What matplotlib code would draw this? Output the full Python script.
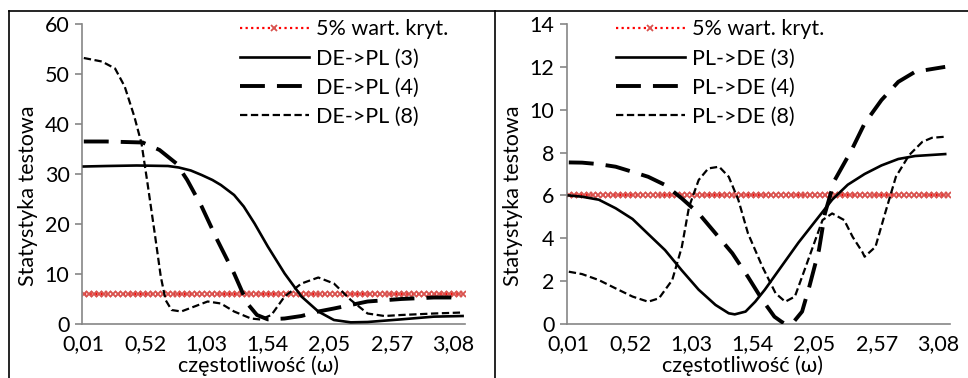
import numpy as np
import matplotlib
matplotlib.use("Agg")
import matplotlib.pyplot as plt
from matplotlib.lines import Line2D

plt.rcParams['font.family'] = ['Lato', 'DejaVu Sans']

# wartosc krytyczna 5%
crit_value = 6.0
crit_omega = np.arange(0.01, 3.17, 0.041)

# DE->PL
de3_w = [0.01, 0.2, 0.45, 0.71, 0.80, 0.90, 0.99, 1.08, 1.15, 1.26, 1.34, 1.43, 1.54, 1.68, 1.82, 1.96, 2.09, 2.23, 2.37, 2.65, 2.92, 3.16]
de3_v = [31.5, 31.6, 31.7, 31.6, 31.3, 30.7, 29.8, 28.8, 27.8, 25.8, 23.5, 20.1, 15.5, 10.1, 5.5, 2.5, 0.8, 0.33, 0.4, 0.93, 1.47, 1.6]

de4_w = [0.01, 0.2, 0.5, 0.64, 0.78, 0.87, 0.99, 1.12, 1.26, 1.37, 1.45, 1.54, 1.68, 1.82, 1.96, 2.09, 2.37, 2.65, 2.92, 3.16]
de4_v = [36.5, 36.5, 36.3, 34.8, 32.1, 28.8, 23.5, 16.8, 10.1, 4.1, 1.8, 0.93, 1.1, 1.6, 2.5, 3.1, 4.5, 5.0, 5.3, 5.3]

de8_w = [0.01, 0.16, 0.27, 0.35, 0.43, 0.49, 0.54, 0.6, 0.65, 0.69, 0.74, 0.82, 0.93, 1.04, 1.15, 1.26, 1.40, 1.48, 1.57, 1.68, 1.82, 1.96, 2.09, 2.23, 2.37, 2.51, 2.65, 2.92, 3.16]
de8_v = [53.2, 52.5, 51.1, 47.5, 41.5, 36.1, 28.1, 18.1, 9.5, 4.8, 2.8, 2.5, 3.5, 4.5, 4.1, 2.5, 1.1, 0.9, 1.8, 5.5, 8.1, 9.3, 8.1, 4.8, 2.1, 1.6, 1.8, 2.1, 2.3]

# PL->DE
pl3_w = [0.01, 0.12, 0.26, 0.40, 0.54, 0.67, 0.81, 0.95, 1.09, 1.23, 1.34, 1.39, 1.48, 1.56, 1.64, 1.78, 1.92, 2.06, 2.20, 2.33, 2.47, 2.61, 2.75, 2.89, 3.14]
pl3_v = [6.0, 5.94, 5.8, 5.4, 4.9, 4.2, 3.45, 2.5, 1.6, 0.89, 0.5, 0.45, 0.58, 1.04, 1.6, 2.7, 3.8, 4.8, 5.8, 6.5, 7.0, 7.4, 7.7, 7.84, 7.93]

pl4_w = [0.01, 0.12, 0.26, 0.40, 0.54, 0.67, 0.81, 0.95, 1.09, 1.23, 1.37, 1.50, 1.62, 1.72, 1.78, 1.81, 1.88, 1.95, 2.01, 2.09, 2.14, 2.22, 2.36, 2.47, 2.61, 2.75, 2.89, 3.14]
pl4_v = [7.54, 7.53, 7.46, 7.34, 7.1, 6.87, 6.49, 5.86, 5.16, 4.23, 3.3, 2.2, 1.12, 0.34, 0.1, 0.0, 0.1, 0.58, 1.74, 3.45, 5.16, 6.7, 8.1, 9.36, 10.45, 11.3, 11.77, 12.0]

pl8_w = [0.01, 0.12, 0.26, 0.40, 0.54, 0.67, 0.76, 0.87, 0.95, 1.01, 1.09, 1.17, 1.26, 1.34, 1.42, 1.50, 1.62, 1.73, 1.81, 1.89, 1.98, 2.06, 2.12, 2.20, 2.30, 2.37, 2.45, 2.47, 2.56, 2.64, 2.73, 2.84, 2.95, 3.03, 3.14]
pl8_v = [2.44, 2.33, 2.05, 1.66, 1.28, 1.04, 1.2, 2.05, 3.6, 5.47, 6.72, 7.26, 7.34, 6.87, 5.79, 4.23, 2.67, 1.43, 1.04, 1.28, 2.67, 3.92, 4.85, 5.16, 4.85, 4.07, 3.37, 3.14, 3.6, 5.16, 6.87, 7.88, 8.5, 8.69, 8.74]

xticks = [0.01, 0.52, 1.03, 1.54, 2.05, 2.57, 3.08]
xticklabels = ['0,01', '0,52', '1,03', '1,54', '2,05', '2,57', '3,08']

fig = plt.figure(figsize=(9.68, 3.78), dpi=100)
W, H = 968.0, 378.0

# ramki
fig.add_artist(Line2D([9 / W, 1], [1 - 11 / H, 1 - 11 / H], color='black', lw=1.2))
fig.add_artist(Line2D([9 / W, 9 / W], [0, 1 - 11 / H], color='black', lw=1.2))
fig.add_artist(Line2D([495 / W, 495 / W], [0, 1 - 11 / H], color='black', lw=1.2))

ax1 = fig.add_axes([82 / W, 54 / H, 383 / W, 300 / H])
ax2 = fig.add_axes([567 / W, 54 / H, 383 / W, 300 / H])

gray = '#868686'
fs = 15.5


def style(ax, ymax, ystep):
    ax.set_xlim(-0.005, 3.18)
    ax.set_ylim(0, ymax)
    ax.set_yticks(np.arange(0, ymax + 0.1, ystep))
    ax.set_xticks(xticks)
    ax.set_xticklabels(xticklabels)
    for s in ['top', 'right']:
        ax.spines[s].set_visible(False)
    for s in ['left', 'bottom']:
        ax.spines[s].set_color(gray)
        ax.spines[s].set_linewidth(1.2)
    ax.tick_params(axis='y', length=5, color=gray, width=1.2, labelsize=fs, pad=4)
    ax.tick_params(axis='x', length=0, labelsize=fs, pad=7)
    ax.set_ylabel('Statystyka testowa', fontsize=fs, va='center')
    ax.yaxis.set_label_coords(-54 / 383, 128 / 300)
    ax.set_xlabel('częstotliwość (ω)', fontsize=fs, va='center')
    ax.xaxis.set_label_coords(176 / 383, -42 / 300)


def draw(ax, series, labels, ymax, ystep, anchor):
    crit = [crit_value] * len(crit_omega)
    ax.plot(crit_omega, crit, color='#FF0000', lw=1.6, ls=(0, (1, 1.5)),
            marker='x', ms=4, mew=1.3, mec='#D9534F', label='5% wart. kryt.', zorder=2)
    (w3, v3), (w4, v4), (w8, v8) = series
    ax.plot(w3, v3, color='black', lw=1.9, label=labels[0], zorder=3)
    ax.plot(w4, v4, color='black', lw=2.8, ls=(0, (6.4, 3.1)), label=labels[1], zorder=3)
    ax.plot(w8, v8, color='black', lw=1.6, ls=(0, (3.3, 1.6)), label=labels[2], zorder=3)
    style(ax, ymax, ystep)
    ax.legend(loc='upper left', bbox_to_anchor=anchor, frameon=False, fontsize=fs,
              handlelength=3.2, handletextpad=0.35, labelspacing=0.43, numpoints=1,
              borderaxespad=0)


draw(ax1, [(de3_w, de3_v), (de4_w, de4_v), (de8_w, de8_v)],
     ['DE->PL (3)', 'DE->PL (4)', 'DE->PL (8)'], 60, 10, ((231 - 82) / 383, 1.045))
draw(ax2, [(pl3_w, pl3_v), (pl4_w, pl4_v), (pl8_w, pl8_v)],
     ['PL->DE (3)', 'PL->DE (4)', 'PL->DE (8)'], 14, 2, ((607 - 567) / 383, 1.045))

fig.savefig('out.png', dpi=100)
